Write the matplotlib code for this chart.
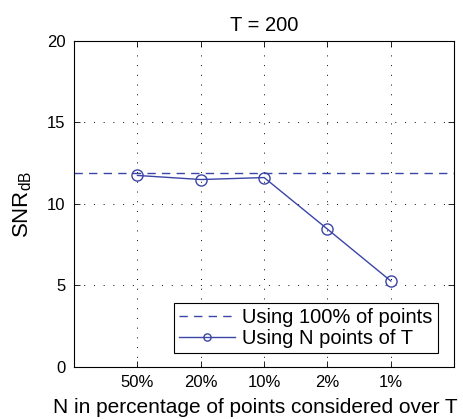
import matplotlib.pyplot as plt
import numpy as np

plt.rcParams['font.family'] = ['Liberation Sans', 'DejaVu Sans']
plt.rcParams['mathtext.fontset'] = 'custom'
plt.rcParams['mathtext.rm'] = 'Liberation Sans'

# SNR for different fractions of points over T
tick_labels = ["50%", "20%", "10%", "2%", "1%"]
snr_subset = [11.74, 11.49, 11.61, 8.45, 5.27]
snr_full = 11.86

line_color = "#3b45a6"

fig = plt.figure(figsize=(4.63, 4.19), dpi=100)
ax = fig.add_axes([0.160, 0.124, 0.821, 0.779])

x = np.arange(1, len(tick_labels) + 1)
ax.axhline(snr_full, color=line_color, linestyle=(0, (6, 4.5)), linewidth=1.0,
           label="Using 100% of points")
ax.plot(x, snr_subset, color=line_color, linewidth=1.0, marker="o",
        markersize=8, markerfacecolor="none", markeredgewidth=1.0,
        label="Using N points of T")

ax.set_xlim(0, 6)
ax.set_ylim(0, 20)
ax.set_xticks(x)
ax.set_xticklabels(tick_labels)
ax.set_yticks([0, 5, 10, 15, 20])
ax.grid(True, color="black", linestyle=(0, (1, 9)), linewidth=0.7)
ax.tick_params(direction="in", length=4, labelsize=12, width=0.6,
               top=True, right=True, pad=6)
for s in ax.spines.values():
    s.set_linewidth(0.8)

ax.set_title("T = 200", fontsize=14.5, pad=7)
ax.set_ylabel(r"SNR$_{\mathrm{dB}}$", fontsize=16)
ax.yaxis.set_label_coords(-0.105, 0.5)
ax.set_xlabel("N in percentage of points considered over T", fontsize=15)
ax.xaxis.set_label_coords(0.476, -0.095)

leg = ax.legend(loc="lower right", bbox_to_anchor=(0.957, 0.042),
                fontsize=14.5, fancybox=False, framealpha=1,
                edgecolor="black", borderpad=0.25, labelspacing=0.1,
                handlelength=2.8, handletextpad=0.35, markerscale=0.65,
                borderaxespad=0)
leg.get_frame().set_linewidth(0.8)

fig.savefig("out.png", dpi=100)
